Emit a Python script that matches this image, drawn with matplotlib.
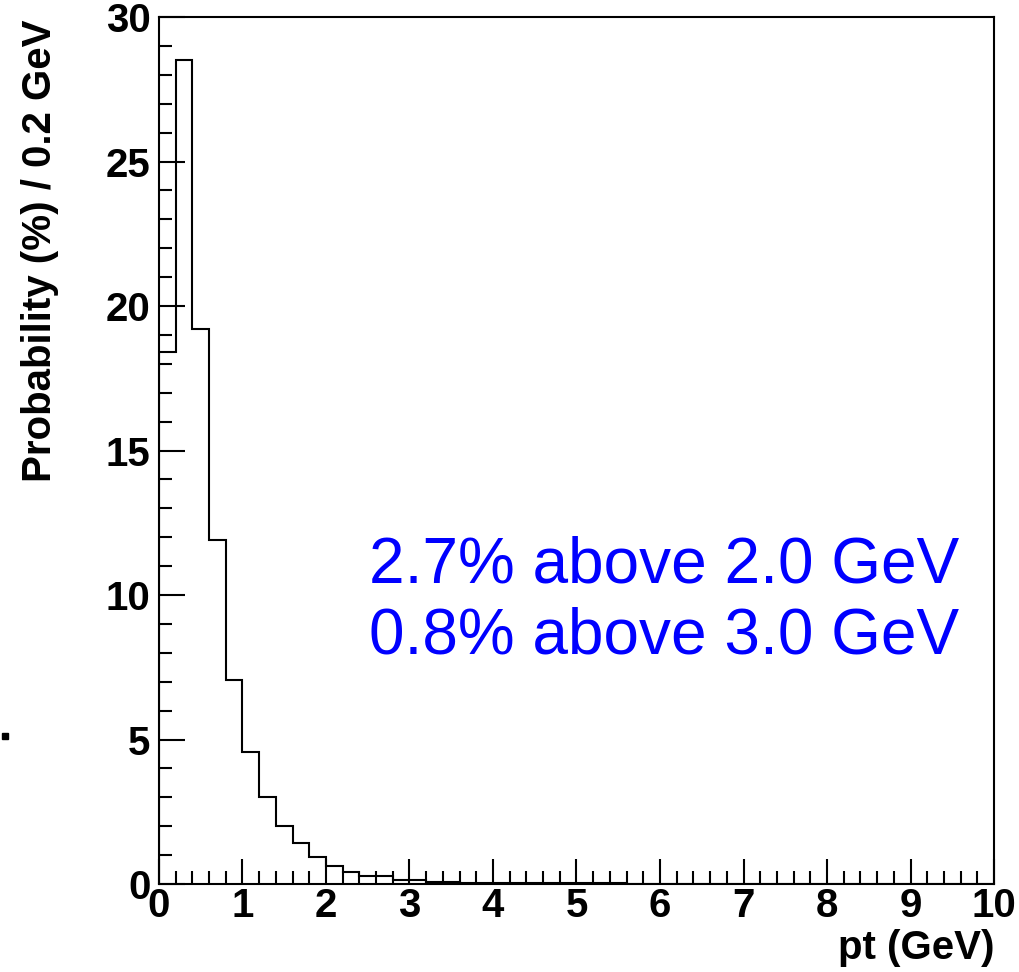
import numpy as np
import matplotlib
matplotlib.use("Agg")
from matplotlib import pyplot as plt
from matplotlib.ticker import MultipleLocator
from matplotlib.patches import Rectangle

# pt spectrum, probability in percent per 0.2 GeV bin (0 - 10 GeV)
bin_edges = np.round(np.arange(0, 10.0001, 0.2), 1)
prob = [18.4, 28.5, 19.2, 11.9, 7.05, 4.58, 3.02, 2.0, 1.41, 0.93,
        0.62, 0.40, 0.29, 0.29, 0.13, 0.13, 0.06, 0.06, 0.02, 0.02,
        0.02, 0.02, 0.02, 0.02, 0.02, 0.02, 0.02, 0.02, 0.0, 0.0,
        0.0, 0.0, 0.0, 0.0, 0.0, 0.0, 0.0, 0.0, 0.0, 0.0,
        0.0, 0.0, 0.0, 0.0, 0.0, 0.0, 0.0, 0.0, 0.0, 0.0]
notes = ["2.7% above 2.0 GeV", "0.8% above 3.0 GeV"]

plt.rcParams['font.family'] = ['Liberation Sans', 'DejaVu Sans']

fig = plt.figure(figsize=(10.19, 9.72), dpi=100)
ax = fig.add_axes([0.156, 0.0905, 0.8195, 0.892])

ax.stairs(prob, bin_edges, color='black', linewidth=1.5)

ax.set_xlim(0, 10)
ax.set_ylim(0, 30)

# ROOT-like ticks pointing inwards
ax.xaxis.set_major_locator(MultipleLocator(1))
ax.xaxis.set_minor_locator(MultipleLocator(0.2))
ax.yaxis.set_major_locator(MultipleLocator(5))
ax.yaxis.set_minor_locator(MultipleLocator(1))
ax.tick_params(axis='both', which='major', direction='in', width=1.5,
               labelsize=29)
ax.tick_params(axis='x', which='major', length=18, pad=2)
ax.tick_params(axis='y', which='major', length=19, pad=6)
ax.tick_params(axis='both', which='minor', direction='in', width=1.5,
               length=9.5)
for lab in ax.get_xticklabels() + ax.get_yticklabels():
    lab.set_fontweight('bold')
for sp in ax.spines.values():
    sp.set_linewidth(1.5)

ax.set_ylabel('Probability (%) / 0.2 GeV', fontsize=29, fontweight='bold',
              va='center')
ax.yaxis.set_label_coords(-0.143, 0.73)
ax.set_xlabel('pt (GeV)', fontsize=29, fontweight='bold', ha='right',
              va='center')
ax.xaxis.set_label_coords(1.0, -0.074)

ax.text(2.52, 10.42, notes[0], color='blue', fontsize=46, ha='left', va='baseline')
ax.text(2.52, 7.96, notes[1], color='blue', fontsize=46, ha='left', va='baseline')

# small stray marker at the left edge
fig.add_artist(Rectangle((0.002, 0.2395), 0.006, 0.0062, transform=fig.transFigure,
                         color='black'))

fig.savefig('out.png', dpi=100)
